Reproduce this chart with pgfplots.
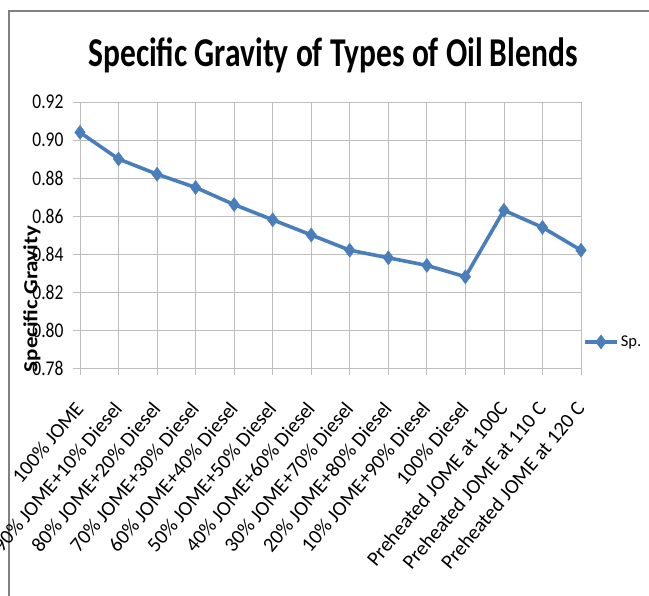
\documentclass[border=0pt]{standalone}
\usepackage{pgfplots}
\pgfplotsset{compat=1.18}
\usepackage{fontspec}
\setmainfont{Carlito}
\definecolor{lineblue}{RGB}{74,126,187}
\definecolor{gridgray}{RGB}{190,190,190}
\definecolor{framegray}{RGB}{128,128,128}

\begin{document}
\begin{tikzpicture}[x=1pt,y=1pt]
\path[use as bounding box] (0,0) rectangle (649,596);
\draw[framegray, line width=1.2pt] (9,0) -- (9,585) -- (649,585);
\node at (333,541) {\scalebox{1}[1.3]{\fontsize{31.5}{31.5}\selectfont\bfseries Specific Gravity of Types of Oil Blends}};
\node[rotate=90] at (32,297) {\scalebox{1.15}[1]{\fontsize{20}{20}\selectfont\bfseries Specific Gravity}};
\begin{axis}[
  at={(80pt,228pt)}, anchor=south west,
  scale only axis, width=501pt, height=266pt,
  xmin=0, xmax=13, ymin=0.78, ymax=0.92,
  xtick={0,...,13},
  xticklabels={100\% JOME, 90\% JOME+10\% Diesel, 80\% JOME+20\% Diesel, 70\% JOME+30\% Diesel, 60\% JOME+40\% Diesel, 50\% JOME+50\% Diesel, 40\% JOME+60\% Diesel, 30\% JOME+70\% Diesel, 20\% JOME+80\% Diesel, 10\% JOME+90\% Diesel, 100\% Diesel, Preheated JOME at 100C, Preheated JOME at 110 C, Preheated JOME at 120 C},
  ytick={0.78,0.80,0.82,0.84,0.86,0.88,0.90,0.92},
  yticklabel={\scalebox{1}[1.2]{\pgfmathprintnumber[fixed,precision=2,zerofill]{\tick}}},
  /pgf/number format/assume math mode=true,
  grid=major, grid style={gridgray, line width=0.8pt},
  axis line style={gridgray, line width=0.8pt},
  tick style={gridgray, line width=0.8pt},
  tick align=outside, major tick length=7pt,
  axis x line*=bottom, axis y line*=left,
  yticklabel style={font=\fontsize{17.5}{17.5}\selectfont, xshift=-6pt},
  xticklabel style={font=\fontsize{20.5}{20.5}\selectfont, yshift=-29pt, rotate=50, anchor=east, inner sep=1pt},
  legend style={at={(1,0.098)}, anchor=west, draw=none, fill=none,
    font=\fontsize{16.5}{16.5}\selectfont, inner xsep=2pt},
  legend image code/.code={
    \draw[mark repeat=2, mark phase=2, #1] plot coordinates {(0pt,0pt) (16pt,0pt) (32pt,0pt)};
  },
]
\addplot[lineblue, line width=3.6pt, mark=diamond*, mark size=7pt,
  mark options={fill=lineblue, draw=lineblue, line width=0.5pt}]
  coordinates {
  (0,0.904) (1,0.890) (2,0.882) (3,0.875) (4,0.866) (5,0.858) (6,0.850)
  (7,0.842) (8,0.838) (9,0.834) (10,0.828) (11,0.863) (12,0.854) (13,0.842)
  };
\addlegendentry{Sp.}
\end{axis}
\end{tikzpicture}
\end{document}
